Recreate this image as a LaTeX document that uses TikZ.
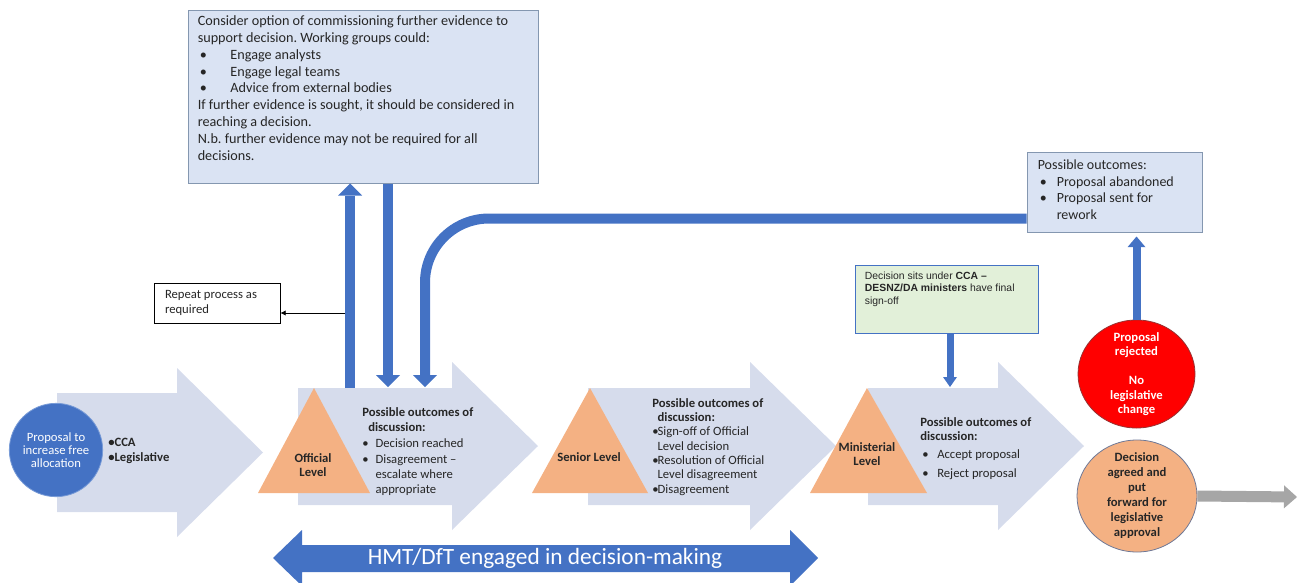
\documentclass[tikz,border=0pt]{standalone}
\usepackage{fontspec}
\setmainfont{Carlito}
\newfontfamily\arialfont{Liberation Sans}
\usetikzlibrary{arrows.meta,shapes.geometric}
\frenchspacing

\definecolor{chevfill}{RGB}{214,220,236}
\definecolor{ablue}{RGB}{68,114,196}
\definecolor{lvlorange}{RGB}{244,177,131}
\definecolor{boxblue}{RGB}{218,227,243}
\definecolor{boxedge}{RGB}{132,151,176}
\definecolor{greenbox}{RGB}{226,240,217}
\definecolor{txtdark}{RGB}{38,38,38}
\definecolor{rejred}{RGB}{255,0,0}
\definecolor{arrgray}{RGB}{166,166,166}

\newcommand{\blt}[1]{\makebox[#1][l]{\textbullet}}

\begin{document}
\begin{tikzpicture}[x=0.75pt, y=-0.75pt,
    font=\fontsize{9.5}{11.25}\selectfont, text=txtdark,
    chev/.style={fill=chevfill},
    lvl/.style={fill=lvlorange},
    lvltext/.style={align=center, inner sep=0pt, font=\fontsize{9.5}{10.5}\selectfont\bfseries},
    outtext/.style={anchor=north west, align=left, inner sep=0pt},
    infobox/.style={draw=boxedge, fill=boxblue, line width=0.75pt},
    bigarr/.style={draw=ablue, line width=7.5pt, -{Triangle[width=18pt, length=9pt, line width=0pt]}},
    midarr/.style={draw=ablue, line width=6pt, -{Triangle[width=13.5pt, length=8pt, line width=0pt]}},
    smallarr/.style={draw=ablue, line width=5.25pt, -{Triangle[width=10.5pt, length=7.5pt, line width=0pt]}},
    thinarr/.style={draw=black, line width=0.6pt, -{Latex[length=4pt, width=4pt]}},
    grayarr/.style={draw=arrgray, line width=8.25pt, -{Triangle[width=17.25pt, length=9.75pt, line width=0pt]}}
]
\useasboundingbox (0,0) rectangle (1298,582);

% process chevrons
\fill[chev] (57,393) -- (177,393) -- (177,368) -- (263,452.5) -- (177,537) -- (177,512) -- (57,512) -- cycle;
\foreach \xa/\xb in {298/452, 588/750, 868/998}
    \fill[chev] (\xa,388) -- (\xb,388) -- (\xb,362) -- (\xb+86,446) -- (\xb,530) -- (\xb,505) -- (\xa,505) -- cycle;

% levels
\fill[lvl] (258,493) -- (314,388) -- (370,493) -- cycle;
\fill[lvl] (532,493) -- (590,388) -- (648,493) -- cycle;
\fill[lvl] (810,493) -- (867,388) -- (927,493) -- cycle;
\node[lvltext] (official) at (313,465) {Official\\Level};
\node[lvltext] (senior) at (589,457) {Senior Level};
\node[lvltext] (ministerial) at (867,454) {Ministerial\\Level};

% start
\node[circle, fill=ablue, draw={rgb,255:red,120;green,155;blue,215}, line width=0.6pt, minimum size=70pt, inner sep=0pt,
    text=white, align=center, font=\fontsize{9.5}{10}\selectfont] (proposal) at (56,450) {Proposal to\\increase free\\allocation};
\node[outtext, font=\fontsize{9.5}{11.25}\selectfont\bfseries] (route) at (108,438) {\textbullet CCA\\\textbullet Legislative};

% outcomes per level
\node[outtext] (offout) at (362,407) {\textbf{Possible outcomes of}\\\hspace*{4.5pt}\textbf{discussion:}\\[1pt]
    \blt{10pt}Decision reached\\[1pt]
    \blt{10pt}Disagreement –\\
    \hspace*{10pt}escalate where\\
    \hspace*{10pt}appropriate};
\node[outtext, font=\fontsize{9.5}{10.75}\selectfont] (senout) at (652,398) {\textbf{Possible outcomes of}\\\hspace*{4pt}\textbf{discussion:}\\
    \blt{4pt}Sign-off of Official\\
    \hspace*{4pt}Level decision\\
    \blt{4pt}Resolution of Official\\
    \hspace*{4pt}Level disagreement\\
    \blt{4pt}Disagreement};
\node[outtext, font=\fontsize{9.5}{10.75}\selectfont] (minout) at (920,417) {\textbf{Possible outcomes of}\\\textbf{discussion:}\\[2.5pt]
    \hspace*{1.5pt}\blt{11.25pt}Accept proposal\\[3.5pt]
    \hspace*{1.5pt}\blt{11.25pt}Reject proposal};

% further evidence
\node[infobox, minimum width=262.5pt, minimum height=129.75pt] (evidence) at (363,96.5) {};
\node[outtext, font=\fontsize{10.65}{12.6}\selectfont] (evidencetext) at ([shift={(10,6)}]evidence.north west)
    {Consider option of commissioning further evidence to\\
    support decision. Working groups could:\\
    \hspace*{1.5pt}\blt{23pt}Engage analysts\\
    \hspace*{1.5pt}\blt{23pt}Engage legal teams\\
    \hspace*{1.5pt}\blt{23pt}Advice from external bodies\\
    If further evidence is sought, it should be considered in\\
    reaching a decision.\\
    N.b. further evidence may not be required for all\\
    decisions.};

\node[draw=black, fill=white, line width=0.6pt, minimum width=94.5pt, minimum height=30pt, inner xsep=8.25pt,
    text width=78pt, align=flush left] (repeat) at (217,303) {Repeat process as\\required};

% ministerial remit
\node[draw=ablue, fill=greenbox, line width=0.6pt, minimum width=137.25pt, minimum height=51pt] (remit) at (946.5,299) {};
\node[outtext, font=\arialfont\fontsize{7.8}{9.4}\selectfont] (remittext) at ([shift={(10,7)}]remit.north west)
    {Decision sits under \textbf{CCA –}\\\textbf{DESNZ/DA ministers} have final\\sign-off};

% final outcomes
\node[infobox, minimum width=131.25pt, minimum height=60pt] (outcomes) at (1114.5,192) {};
\node[outtext, font=\fontsize{10.5}{12.5}\selectfont] (outcomestext) at ([shift={(11,8)}]outcomes.north west)
    {Possible outcomes:\\
    \hspace*{1.5pt}\blt{12.75pt}Proposal abandoned\\
    \hspace*{1.5pt}\blt{12.75pt}Proposal sent for\\
    \hspace*{14.25pt}rework};

\node[ellipse, fill=rejred, draw={rgb,255:red,150;green,50;blue,50}, line width=0.6pt, minimum width=87.75pt, minimum height=81pt, inner sep=0pt,
    label={[text=white, align=center, font=\fontsize{9.5}{10.9}\selectfont\bfseries]center:{Proposal\\rejected\\[10.9pt]No\\legislative\\change}}] (rejected) at (1136.5,374) {};
\node[ellipse, fill=lvlorange, draw={rgb,255:red,110;green,120;blue,150}, line width=0.6pt, minimum width=90pt, minimum height=84pt, inner sep=0pt,
    label={[align=center, font=\fontsize{9.5}{11.25}\selectfont\bfseries]center:{Decision\\agreed and\\put\\forward for\\legislative\\approval}}] (agreed) at (1137,496) {};

% connectors
\coordinate (upfoot) at (350,388);
\coordinate (downfoot) at (388,387);
\coordinate (loopfoot) at (425,387);
\coordinate (repfrom) at (345,313);
\coordinate (minfoot) at (950,387);
\coordinate (onward) at (1297,497);

\draw[bigarr] (upfoot) -- (upfoot |- evidence.south);
\draw[bigarr] (downfoot |- evidence.south) -- (downfoot);
\draw[bigarr, rounded corners=48pt] ([yshift=10.5pt]outcomes.south west) -| (loopfoot);
\draw[thinarr] (repfrom) -- (repfrom -| repeat.east);
\draw[midarr, shorten >=3pt] (rejected.north) -- (rejected.north |- outcomes.south);
\draw[smallarr] (minfoot |- remit.south) -- (minfoot);
\draw[grayarr] (agreed.east) -- (onward);

% treasury / transport
\fill[ablue] (273,558) -- (302,530) -- (302,545) -- (790,545) -- (790,530) -- (818,558) -- (790,586) -- (790,572) -- (302,572) -- (302,586) -- cycle;
\node[text=white, font=\fontsize{17.5}{20}\selectfont] (hmt) at (545,558) {HMT/DfT engaged in decision-making};
\end{tikzpicture}
\end{document}
